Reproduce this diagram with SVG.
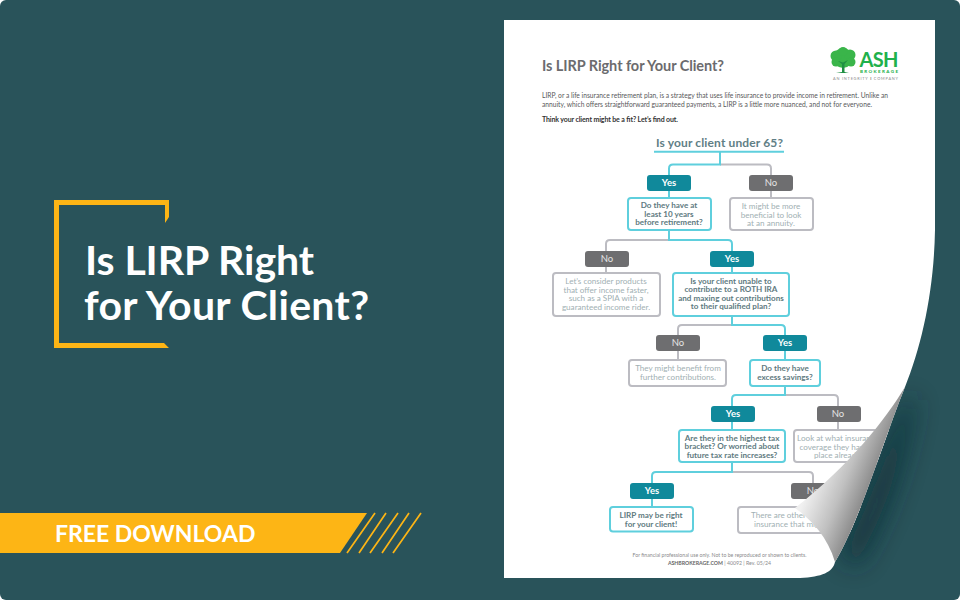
<svg xmlns="http://www.w3.org/2000/svg" width="960" height="600" viewBox="0 0 960 600">
<defs>
<linearGradient id="flap" gradientUnits="userSpaceOnUse" x1="800" y1="510" x2="852" y2="531"><stop offset="0" stop-color="#f0f0f0"/><stop offset="0.55" stop-color="#c0c0c0"/><stop offset="1" stop-color="#8a8a8a"/></linearGradient>
<filter id="blur" x="-60%" y="-30%" width="220%" height="160%"><feGaussianBlur stdDeviation="13"/></filter>
<clipPath id="pageclip"><path d="M504 20H935V230C934 290 922 345 905 387C880 450 860 520 835 562C833 572 822 577 800 578H504Z"/></clipPath>
</defs>
<style>
text{font-family:"Lato","Open Sans","Liberation Sans",sans-serif}
.c{stroke-width:2;fill:none}
.t{stroke:#5fcfdd}.g{stroke:#bcbcc2}
.py{fill:#10899b}.pn{fill:#6e6e70}
.pt{fill:#fff;font-size:9.500px;font-weight:700;text-anchor:middle}
.pm{fill:#e4e4e4;font-weight:400}
.by{fill:#fff;stroke:#5fcfdd;stroke-width:2}.bn{fill:#fff;stroke:#bcbcc2;stroke-width:2}
.ty{fill:#607a80;font-size:8.100px;font-weight:700;text-anchor:middle}
.tn{fill:#9fb0b3;font-size:8.100px;text-anchor:middle}
</style>
<rect width="960" height="600" fill="#fff"/>
<rect width="960" height="600" rx="6" fill="#29535a"/>
<g id="frame"><path d="M54 200H169V217L165 223V205H59V343H164L169 348H54Z" fill="#fdb515"/></g>
<g id="headline"><text x="85" y="275" font-size="41" font-weight="700" fill="#fff" textLength="229">Is LIRP Right</text><text x="84" y="319.500" font-size="41" font-weight="700" fill="#fff" textLength="285">for Your Client?</text></g>
<g id="banner"><path d="M0 513H367L340 553H0Z" fill="#fdb515"/><text x="55" y="542" font-size="23" font-weight="700" fill="#fff">FREE DOWNLOAD</text>
<path d="M375 513L347 553M386 513L359 553M398 513L370 553M409 513L382 553M421 513L393 553" stroke="#fdb515" stroke-width="1.700" fill="none"/></g>
<path id="curl-shadow" d="M905 400C885 450 868 505 842 555L856 566C885 520 905 460 914 400Z" fill="#0e2c33" opacity=".85" filter="url(#blur)"/>
<g clip-path="url(#pageclip)">
<g id="page">
<rect x="504" y="20" width="431" height="558" fill="#fff"/>
<text x="542" y="71" font-size="14.500" font-weight="700" fill="#6b6b6e" textLength="182">Is LIRP Right for Your Client?</text>
<text x="542" y="98" font-size="6.700" fill="#58585a" textLength="346">LIRP, or a life insurance retirement plan, is a strategy that uses life insurance to provide income in retirement. Unlike an</text>
<text x="542" y="107" font-size="6.700" fill="#58585a" textLength="330">annuity, which offers straightforward guaranteed payments, a LIRP is a little more nuanced, and not for everyone.</text>
<text x="542" y="122" font-size="7" font-weight="700" fill="#333" textLength="136">Think your client might be a fit? Let’s find out.</text>
</g>
<g id="logo">
<g fill="#3ab54a"><circle cx="843" cy="58" r="10"/><circle cx="836" cy="56" r="5.500"/><circle cx="836" cy="62" r="4.500"/><circle cx="850" cy="55" r="5.500"/><circle cx="851" cy="62" r="4.500"/><circle cx="843" cy="51.500" r="4.500"/></g>
<path d="M842 72V64L838 61L843 62.500L848 60L844.500 64V72L849 73H836Z" fill="#1f8f43"/>
<text x="859.500" y="67" font-size="20" font-weight="700" fill="#1fb14c" textLength="39">ASH</text>
<text x="860" y="73" font-size="4.500" font-weight="900" fill="#1fb14c" textLength="38">BROKERAGE</text>
<text x="833" y="80" font-size="3.900" fill="#8a8a8a" textLength="65">AN INTEGRITY <tspan font-weight="700" fill="#666">I</tspan> COMPANY</text>
</g>
<g id="connectors">
<path class="c g" d="M720 164.500H767Q771 164.500 771 168.500V198"/><path class="c t" d="M720 152V164.500H673Q669 164.500 669 168.500V198"/>
<path class="c g" d="M669 240H610Q606 240 606 244V273"/><path class="c t" d="M669 231V240H728Q732 240 732 244V273"/>
<path class="c g" d="M732 325H682Q678 325 678 329V360"/><path class="c t" d="M732 316V325H781Q785 325 785 329V360"/>
<path class="c g" d="M785 395H834Q838 395 838 399V430"/><path class="c t" d="M785 386V395H736Q732 395 732 399V430"/>
<path class="c g" d="M732 472H809Q813 472 813 476V507"/><path class="c t" d="M732 462V472H656Q652 472 652 476V507"/>
</g>
<g id="q0"><text x="719.500" y="147" font-size="12" font-weight="700" fill="#5f7e85" text-anchor="middle" textLength="127">Is your client under 65?</text><path d="M654 151.700H784" stroke="#5fcfdd" stroke-width="2"/></g>
<g id="yes1"><rect x="647" y="175" width="44" height="16" rx="3" class="py"/><text x="669" y="186.300" class="pt">Yes</text></g>
<g id="no1"><rect x="749" y="175" width="44" height="16" rx="3" class="pn"/><text x="771" y="186.300" class="pt pm">No</text></g>
<g id="b1"><rect x="628" y="198" width="83" height="32" rx="3" class="by"/><text x="669" y="208" class="ty">Do they have at</text><text x="669" y="216.700" class="ty">least 10 years</text><text x="669" y="225.300" class="ty">before retirement?</text></g>
<g id="b2"><rect x="730" y="198" width="83" height="32" rx="3" class="bn"/><text x="771" y="209" class="tn">It might be more</text><text x="771" y="217.500" class="tn">beneficial to look</text><text x="771" y="226" class="tn">at an annuity.</text></g>
<g id="no2"><rect x="585" y="251" width="44" height="16" rx="3" class="pn"/><text x="607" y="262.300" class="pt pm">No</text></g>
<g id="yes2"><rect x="710" y="251" width="44" height="16" rx="3" class="py"/><text x="732" y="262.300" class="pt">Yes</text></g>
<g id="b3"><rect x="553" y="273" width="107" height="43" rx="3" class="bn"/><text x="606" y="284" class="tn">Let’s consider products</text><text x="606" y="292.600" class="tn">that offer income faster,</text><text x="606" y="301.200" class="tn">such as a SPIA with a</text><text x="606" y="309.800" class="tn">guaranteed income rider.</text></g>
<g id="b4"><rect x="673" y="273" width="116" height="43" rx="3" class="by"/><text x="731" y="283.500" class="ty">Is your client unable to</text><text x="731" y="292" class="ty">contribute to a ROTH IRA</text><text x="731" y="300.500" class="ty">and maxing out contributions</text><text x="731" y="309" class="ty">to their qualified plan?</text></g>
<g id="no3"><rect x="656" y="335" width="44" height="16" rx="3" class="pn"/><text x="678" y="346.300" class="pt pm">No</text></g>
<g id="yes3"><rect x="763" y="335" width="44" height="16" rx="3" class="py"/><text x="785" y="346.300" class="pt">Yes</text></g>
<g id="b5"><rect x="629" y="360" width="97" height="26" rx="3" class="bn"/><text x="678" y="371" class="tn">They might benefit from</text><text x="678" y="379.500" class="tn">further contributions.</text></g>
<g id="b6"><rect x="750" y="360" width="70" height="26" rx="3" class="by"/><text x="785" y="371" class="ty">Do they have</text><text x="785" y="379.500" class="ty">excess savings?</text></g>
<g id="yes4"><rect x="711" y="406" width="44" height="16" rx="3" class="py"/><text x="733" y="417.300" class="pt">Yes</text></g>
<g id="no4"><rect x="817" y="406" width="44" height="16" rx="3" class="pn"/><text x="838" y="417.300" class="pt pm">No</text></g>
<g id="b7"><rect x="679" y="430" width="106" height="32" rx="3" class="by"/><text x="732" y="440.700" class="ty">Are they in the highest tax</text><text x="732" y="449.200" class="ty">bracket? Or worried about</text><text x="732" y="457.700" class="ty">future tax rate increases?</text></g>
<g id="b8"><rect x="794" y="430" width="104" height="32" rx="3" class="bn"/><text x="838" y="441" class="tn">Look at what insurance</text><text x="838" y="449.800" class="tn">coverage they have in</text><text x="838" y="458" class="tn">place already.</text></g>
<g id="yes5"><rect x="630" y="483" width="44" height="16" rx="3" class="py"/><text x="652" y="494.300" class="pt">Yes</text></g>
<g id="no5"><rect x="791" y="483" width="44" height="16" rx="3" class="pn"/><text x="813" y="494.300" class="pt pm">No</text></g>
<g id="b9"><rect x="610" y="507" width="83" height="24.500" rx="3" class="by"/><text x="651" y="518" class="ty">LIRP may be right</text><text x="651" y="526.700" class="ty">for your client!</text></g>
<g id="b10"><rect x="738" y="507" width="150" height="26" rx="3" class="bn"/><text x="751" y="518" class="tn" style="text-anchor:start">There are other</text><text x="754" y="526.700" class="tn" style="text-anchor:start">insurance that might</text></g>
<g id="footer"><text x="719.500" y="557" font-size="5.200" fill="#8a8a8c" text-anchor="middle">For financial professional use only. Not to be reproduced or shown to clients.</text><text x="719.500" y="565" font-size="5.200" fill="#8a8a8c" text-anchor="middle"><tspan font-weight="700" fill="#666">ASHBROKERAGE.COM</tspan>  |  40092  |  Rev. 05/24</text></g>
</g>
<path id="curl" d="M905 387C885 420 850 465 795 508C812 520 828 538 835 562C860 520 880 450 905 387Z" fill="url(#flap)"/>
</svg>
